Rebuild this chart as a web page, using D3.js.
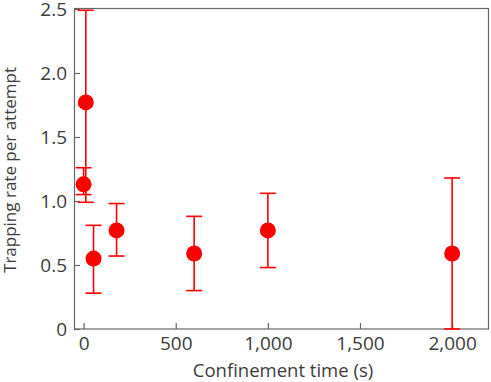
<!DOCTYPE html>
<html>
<head>
<meta charset="utf-8">
<script src="https://cdn.jsdelivr.net/npm/d3@7"></script>
<style>
  body { margin: 0; background: #fff; }
  text { font-family: "Open Sans", sans-serif; }
</style>
</head>
<body>
<svg id="chart" width="491" height="382"></svg>
<script>
// Data
const times = [0, 12, 54, 179, 600, 1000, 2000];           // confinement time (s)
const rates = [1.13, 1.77, 0.55, 0.77, 0.59, 0.77, 0.59];   // trapping rate per attempt
const errLow = [1.05, 0.99, 0.28, 0.57, 0.30, 0.48, 0.0];
const errHigh = [1.26, 2.49, 0.81, 0.98, 0.88, 1.06, 1.18];
const xTicks = [0, 500, 1000, 1500, 2000];
const yTicks = [0, 0.5, 1.0, 1.5, 2.0, 2.5];

const W = 491, H = 382;
const margin = { top: 8, right: 2, bottom: 53, left: 74 };
const svg = d3.select("#chart");

const x = d3.scaleLinear().domain([-52, 2200]).range([margin.left, W - margin.right]);
const y = d3.scaleLinear().domain([0, 2.5]).range([H - margin.bottom, 9]);

const AXIS = "#666";
const RED = "#ff0000";
const TXT = "#3c3c3c";

// frame
svg.append("rect")
  .attr("x", margin.left + 0.5)
  .attr("y", margin.top + 0.5)
  .attr("width", W - margin.left - margin.right - 1)
  .attr("height", H - margin.top - margin.bottom - 0.5)
  .attr("fill", "none")
  .attr("stroke", AXIS)
  .attr("stroke-width", 1.2);

// x axis (ticks point inwards)
const xAxis = svg.append("g")
  .attr("transform", `translate(0,${H - margin.bottom})`)
  .call(d3.axisBottom(x).tickValues(xTicks).tickSize(-6).tickPadding(8)
    .tickFormat(d3.format(",")));
xAxis.select(".domain").remove();
xAxis.selectAll("line").attr("stroke", AXIS).attr("stroke-width", 1.2);
xAxis.selectAll("text").attr("fill", TXT).style("font-size", "19px");

// y axis
const yAxis = svg.append("g")
  .attr("transform", `translate(${margin.left},0)`)
  .call(d3.axisLeft(y).tickValues(yTicks).tickSize(-6).tickPadding(7)
    .tickFormat(d => d === 0 ? "0" : d3.format(".1f")(d)));
yAxis.select(".domain").remove();
yAxis.selectAll("line").attr("stroke", AXIS).attr("stroke-width", 1.2);
yAxis.selectAll("text").attr("fill", TXT).style("font-size", "19px");

// axis labels
svg.append("text")
  .attr("x", 283)
  .attr("y", 377)
  .attr("text-anchor", "middle")
  .attr("fill", TXT)
  .style("font-size", "18.5px")
  .text("Confinement time (s)");

svg.append("text")
  .attr("transform", `translate(15.5,170) rotate(-90)`)
  .attr("text-anchor", "middle")
  .attr("fill", TXT)
  .style("font-size", "17px")
  .text("Trapping rate per attempt");

// error bars
const pts = times.map((t, i) => ({ t, v: rates[i], lo: errLow[i], hi: errHigh[i] }));
const bars = svg.append("g").attr("stroke", RED).attr("stroke-width", 1.6);
const CAP = 8;
pts.forEach(p => {
  bars.append("line").attr("x1", x(p.t)).attr("x2", x(p.t)).attr("y1", y(p.lo)).attr("y2", y(p.hi));
  [p.lo, p.hi].forEach(e => {
    bars.append("line")
      .attr("x1", x(p.t) - CAP).attr("x2", x(p.t) + CAP)
      .attr("y1", y(e)).attr("y2", y(e));
  });
});

// points
svg.append("g").selectAll("circle")
  .data(pts)
  .join("circle")
  .attr("cx", d => x(d.t))
  .attr("cy", d => y(d.v))
  .attr("r", 8)
  .attr("fill", RED);
</script>
</body>
</html>
